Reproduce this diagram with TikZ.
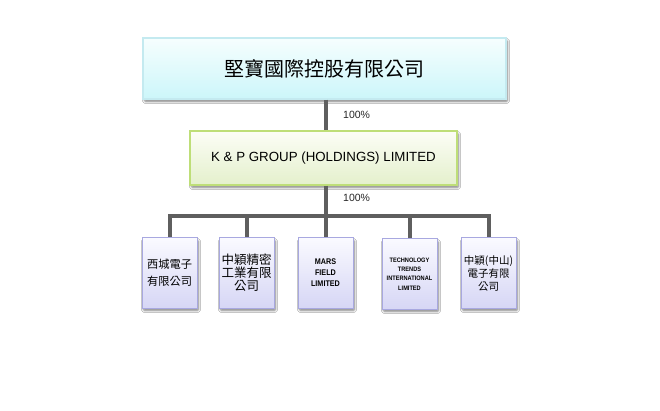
\documentclass[tikz,border=0pt]{standalone}
\usepackage{fontspec}
\setmainfont{Liberation Sans}
\newfontfamily\cjk{Noto Sans CJK TC}
\newfontfamily\narrowfont[FakeStretch=0.88]{Liberation Sans}
\usetikzlibrary{shadows.blur}
\definecolor{linegray}{RGB}{95,95,95}
\definecolor{topfillA}{RGB}{246,254,254}
\definecolor{topfillB}{RGB}{204,246,250}
\definecolor{topborder}{RGB}{196,234,240}
\definecolor{midfillA}{RGB}{252,253,246}
\definecolor{midfillB}{RGB}{228,240,204}
\definecolor{midborder}{RGB}{190,222,120}
\definecolor{subfillA}{RGB}{250,250,255}
\definecolor{subfillB}{RGB}{214,214,245}
\definecolor{subborder}{RGB}{168,168,224}
\begin{document}
\begin{tikzpicture}[x=1pt,y=-1pt,
  boxshadow/.style={blur shadow={shadow blur steps=6, shadow xshift=1.5pt, shadow yshift=-2.5pt, shadow opacity=50, shadow blur extra rounding=1pt}},
  topbox/.style={draw=topborder, line width=1.2pt, top color=topfillA, bottom color=topfillB, minimum width=363pt, minimum height=61pt, inner sep=0pt, boxshadow},
  midbox/.style={draw=midborder, line width=1.4pt, top color=midfillA, bottom color=midfillB, minimum width=267pt, minimum height=54pt, inner sep=0pt, boxshadow},
  subbox/.style={draw=subborder, line width=1pt, top color=subfillA, bottom color=subfillB, minimum width=55pt, minimum height=70pt, inner sep=0pt, align=center, boxshadow},
  conn/.style={draw=linegray, line width=4pt},
  pct/.style={anchor=west, inner sep=0pt, font=\fontsize{10.5}{12}\selectfont, text=black!85}
]
\useasboundingbox[fill=white] (0,0) rectangle (660,411);

\node[topbox, font=\cjk\fontsize{20}{24}\selectfont] (top) at (324.5,68.5) {堅寶國際控股有限公司};
\node[midbox, font=\fontsize{13.3}{16}\selectfont] (mid) at (323.5,158) {K \& P GROUP (HOLDINGS) LIMITED};

\node[subbox, font=\cjk\fontsize{11.25}{17}\selectfont] (b1) at (169.5,273) {西城電子\\有限公司};
\node[subbox, font=\cjk\fontsize{12.5}{13}\selectfont] (b2) at (246.5,273) {中穎精密\\工業有限\\公司};
\node[subbox, font=\narrowfont\bfseries\fontsize{8.2}{11}\selectfont] (b3) at (325.5,273) {MARS\\FIELD\\LIMITED};
\node[subbox, font=\narrowfont\bfseries\fontsize{6.4}{9.2}\selectfont] (b4) at (409.5,274) {TECHNOLOGY\\TRENDS\\INTERNATIONAL\\LIMITED};
\node[subbox, font=\cjk\fontsize{10.5}{13}\selectfont] (b5) at (488.5,273) {中穎(中山)\\電子有限\\公司};

\coordinate (bus) at (325.5,216);

\draw[conn] (top.south -| bus) -- (mid.north -| bus);
\draw[conn] (mid.south -| bus) -- (bus);
\draw[conn] (bus) -| (b1.north);
\draw[conn] (bus) -| (b2.north);
\draw[conn] (bus) -- (b3.north);
\draw[conn] (bus) -| (b4.north);
\draw[conn] (bus) -| (b5.north);

\node[pct] (p1) at (343,115) {100\%};
\node[pct] (p2) at (343,198) {100\%};
\end{tikzpicture}
\end{document}
